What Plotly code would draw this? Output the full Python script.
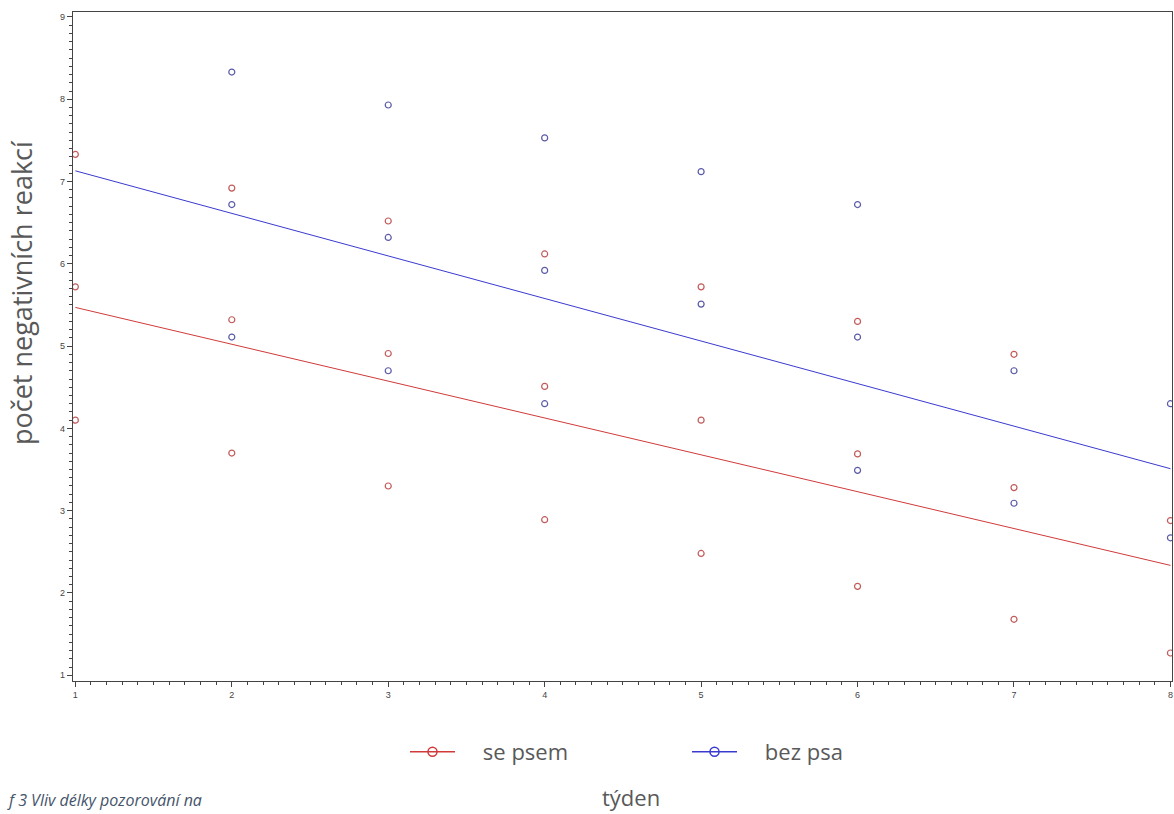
import plotly.graph_objects as go

# --- data ---
weeks_se_psem = [1, 1, 1, 2, 2, 2, 3, 3, 3, 4, 4, 4, 5, 5, 5, 6, 6, 6, 7, 7, 7, 8, 8]
values_se_psem = [7.33, 5.72, 4.10, 6.92, 5.32, 3.70, 6.52, 4.91, 3.30, 6.12, 4.51, 2.89,
                  5.72, 4.10, 2.48, 5.30, 3.69, 2.08, 4.90, 3.28, 1.68, 2.88, 1.27]

weeks_bez_psa = [2, 2, 2, 3, 3, 3, 4, 4, 4, 5, 5, 6, 6, 6, 7, 7, 8, 8]
values_bez_psa = [8.33, 6.72, 5.11, 7.93, 6.32, 4.70, 7.53, 5.92, 4.30, 7.12, 5.51,
                  6.72, 5.11, 3.49, 4.70, 3.09, 4.30, 2.67]

fit_weeks = [1, 8]
fit_se_psem = [5.47, 2.335]
fit_bez_psa = [7.13, 3.51]

series_names = ["se psem", "bez psa"]
x_tick_vals = [1, 2, 3, 4, 5, 6, 7, 8]
y_tick_vals = [1, 2, 3, 4, 5, 6, 7, 8, 9]

RED_LINE = "#d03a3a"
RED_MARK = "#c25a5a"
BLUE_LINE = "#3a3ad0"
BLUE_MARK = "#5a5aa8"
TEXT_GRAY = "#595959"

fig = go.Figure()

fig.add_trace(go.Scatter(x=fit_weeks, y=fit_se_psem, mode="lines",
                         line=dict(color=RED_LINE, width=1), showlegend=False, hoverinfo="skip"))
fig.add_trace(go.Scatter(x=fit_weeks, y=fit_bez_psa, mode="lines",
                         line=dict(color=BLUE_LINE, width=1), showlegend=False, hoverinfo="skip"))

fig.add_trace(go.Scatter(x=weeks_se_psem, y=values_se_psem, mode="markers",
                         marker=dict(symbol="circle-open", size=6, color=RED_MARK,
                                     line=dict(width=1.2, color=RED_MARK)),
                         showlegend=False, name=series_names[0]))
fig.add_trace(go.Scatter(x=weeks_bez_psa, y=values_bez_psa, mode="markers",
                         marker=dict(symbol="circle-open", size=6, color=BLUE_MARK,
                                     line=dict(width=1.2, color=BLUE_MARK)),
                         showlegend=False, name=series_names[1]))

# legend entries
pad = "\u00a0" * 4
fig.add_trace(go.Scatter(x=[None], y=[None], mode="lines+markers", name=pad + series_names[0],
                         line=dict(color=RED_LINE, width=1.5),
                         marker=dict(symbol="circle-open", size=9, color=RED_LINE,
                                     line=dict(width=1.5, color=RED_LINE))))
fig.add_trace(go.Scatter(x=[None], y=[None], mode="lines+markers", name=pad + series_names[1],
                         line=dict(color=BLUE_LINE, width=1.5),
                         marker=dict(symbol="circle-open", size=9, color=BLUE_LINE,
                                     line=dict(width=1.5, color=BLUE_LINE))))

axis_common = dict(
    showgrid=False, zeroline=False, showline=True, linecolor="#444444", linewidth=1.3,
    mirror=True, ticks="outside", ticklen=5, tickwidth=1, tickcolor="#444444",
    tickfont=dict(family="Liberation Sans", size=9, color="#444444"),
    automargin=False,
)

fig.update_layout(
    width=1174, height=814,
    margin=dict(l=73, r=2, t=12, b=133),
    paper_bgcolor="white", plot_bgcolor="white",
    xaxis=dict(**axis_common, range=[0.985, 8.01], tickvals=x_tick_vals,
               minor=dict(dtick=0.1, ticks="outside", ticklen=3, tickcolor="#444444")),
    yaxis=dict(**axis_common, range=[0.93, 9.06], tickvals=y_tick_vals,
               minor=dict(dtick=0.1, ticks="outside", ticklen=3, tickcolor="#444444")),
    legend=dict(orientation="h", x=(405 - 73) / 1099, xanchor="left", y=-0.106,
                yanchor="middle",
                font=dict(family="Open Sans", size=22, color=TEXT_GRAY),
                itemwidth=45, entrywidth=222, bgcolor="rgba(0,0,0,0)"),
    annotations=[
        dict(text="počet negativních reakcí", xref="paper", yref="paper",
             x=(21 - 73) / 1099, y=(681 - 293) / 669, xanchor="center", yanchor="middle",
             textangle=-90, showarrow=False, borderpad=0,
             font=dict(family="Open Sans", size=27, color=TEXT_GRAY)),
        dict(text="týden", xref="paper", yref="paper",
             x=(631 - 73) / 1099, y=-(797 - 681) / 669, xanchor="center", yanchor="middle",
             showarrow=False, borderpad=0,
             font=dict(family="Open Sans", size=22, color=TEXT_GRAY)),
        dict(text="<i>f 3 Vliv délky pozorování na</i>", xref="paper", yref="paper",
             x=(6 - 73) / 1099, y=-(812 - 681) / 669, xanchor="left", yanchor="bottom",
             showarrow=False, borderpad=0,
             font=dict(family="Open Sans", size=16, color="#44546A")),
    ],
)

fig.write_html("out.html", config={"displayModeBar": False},
               post_script="document.body.style.margin='0';document.body.style.overflow='hidden';")
